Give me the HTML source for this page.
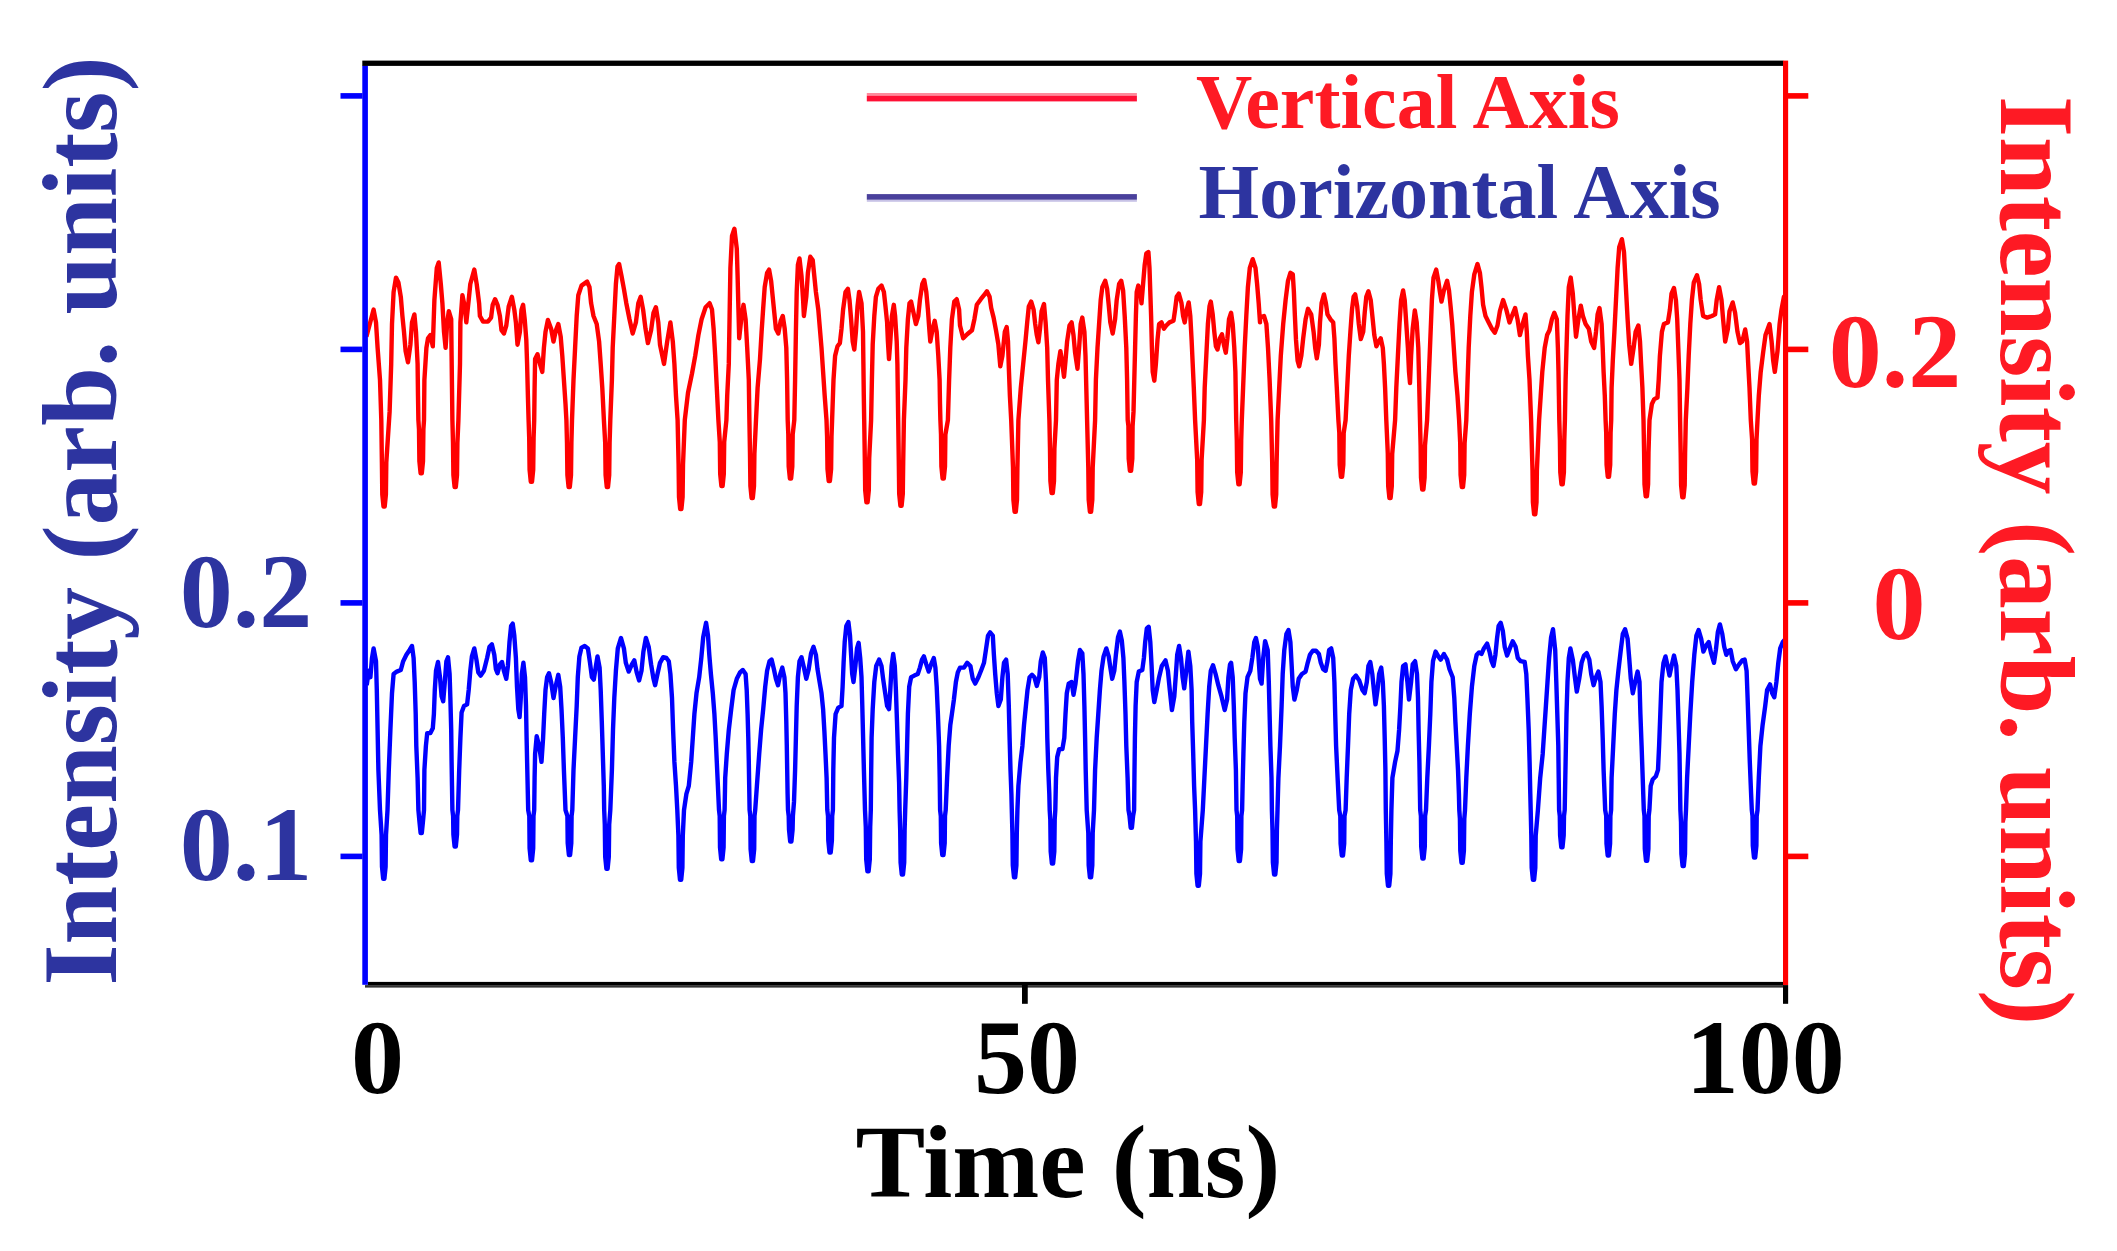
<!DOCTYPE html>
<html><head><meta charset="utf-8"><title>Intensity vs Time</title>
<style>
html,body{margin:0;padding:0;background:#fff;}
svg{display:block;}
text{font-family:"Liberation Serif","DejaVu Serif",serif;font-weight:bold;}
</style></head><body>
<svg width="2117" height="1251" viewBox="0 0 2117 1251">
<rect width="2117" height="1251" fill="#fff"/>
<!-- traces -->
<polyline fill="none" stroke="#ff0000" stroke-width="4.4" stroke-linejoin="round" points="366.4,336.7 373.6,309.6 376.0,322.4 377.6,347.9 380.0,379.9 381.3,420.1 381.9,462.6 382.3,494.6 383.5,506.6 384.7,506.6 385.9,494.6 386.3,462.6 389.6,411.9 391.2,363.9 392.0,324.0 393.6,292.0 396.0,277.6 398.4,282.4 400.8,296.8 402.4,316.0 404.0,331.9 405.6,351.1 408.0,362.3 410.4,344.7 412.0,322.4 414.4,314.4 416.0,331.9 417.6,363.9 418.0,395.9 418.4,420.1 419.0,429.4 419.4,461.4 420.6,473.4 421.8,473.4 423.0,461.4 423.4,429.4 424.0,420.1 424.4,379.9 426.4,347.9 428.0,338.3 430.4,335.1 432.8,346.3 434.4,300.0 436.8,268.0 438.7,262.4 440.8,284.0 442.4,303.2 444.0,331.9 445.6,347.9 447.2,322.4 448.8,311.2 451.2,319.2 451.6,355.9 452.0,387.9 452.4,420.1 453.0,443.0 453.4,475.0 454.6,487.0 455.8,487.0 457.0,475.0 457.4,443.0 458.4,420.1 460.0,363.9 460.4,322.4 462.4,295.2 464.7,306.4 466.3,322.4 468.7,300.0 470.3,284.0 474.3,269.6 476.7,284.0 479.1,303.2 479.9,316.0 483.1,321.6 487.9,321.6 491.1,317.6 492.7,304.8 495.1,299.2 497.5,304.8 499.9,316.0 501.5,330.3 503.9,333.5 506.3,325.5 508.7,306.4 511.9,296.8 514.3,309.6 515.9,322.4 517.5,344.7 519.9,331.9 521.5,309.6 523.1,304.8 524.7,319.2 526.3,339.9 527.1,363.9 527.9,395.9 528.6,420.1 529.2,437.9 529.6,469.9 530.8,481.9 532.0,481.9 533.2,469.9 533.6,437.9 534.2,420.1 534.6,387.9 535.1,359.1 537.5,354.3 539.9,363.9 542.3,371.9 543.9,347.9 545.5,331.9 547.9,320.0 551.1,328.7 553.5,341.5 555.9,330.3 558.3,324.0 560.7,336.7 562.3,355.9 563.9,379.9 565.5,403.9 566.4,420.1 567.0,443.0 567.4,475.0 568.6,487.0 569.8,487.0 571.0,475.0 571.4,443.0 572.0,420.1 573.5,379.9 575.1,347.9 576.7,316.0 578.3,295.2 581.5,285.6 587.1,281.6 589.5,287.2 591.1,303.2 593.5,316.0 596.7,324.0 599.1,341.5 600.7,363.9 602.3,387.9 603.9,420.1 605.2,443.0 605.6,475.0 606.8,487.0 608.0,487.0 609.2,475.0 609.6,443.0 610.3,420.1 611.9,379.9 612.7,347.9 614.3,316.0 615.9,284.0 617.5,266.4 619.1,264.0 621.5,276.0 623.9,288.8 626.3,303.2 629.5,319.2 632.7,333.5 635.9,322.4 638.3,303.2 640.7,296.8 643.1,309.6 645.5,328.7 647.9,343.1 651.1,330.3 653.5,312.8 655.9,307.2 658.3,322.4 660.0,344.7 664.0,363.9 667.2,341.5 670.4,322.4 672.8,341.5 674.4,363.9 676.0,395.9 677.6,420.1 678.6,465.0 679.0,497.0 680.2,509.0 681.4,509.0 682.6,497.0 683.0,465.0 684.8,420.1 688.0,392.7 692.0,373.5 695.2,355.9 698.4,335.1 701.6,319.2 705.6,307.2 709.6,303.2 712.0,309.6 713.6,328.7 715.2,355.9 716.8,387.9 718.4,420.1 719.8,442.0 720.2,474.0 721.4,486.0 722.6,486.0 723.8,474.0 724.2,442.0 726.4,420.1 727.2,395.9 728.8,363.9 729.6,316.0 730.4,268.0 732.0,236.0 734.4,228.8 736.8,248.8 737.6,276.0 738.4,308.0 739.2,338.3 741.6,316.0 743.5,304.8 745.6,319.2 747.2,347.9 748.8,379.9 749.4,420.1 750.0,454.0 750.4,486.0 751.6,498.0 752.8,498.0 754.0,486.0 754.4,454.0 756.0,420.1 757.6,387.9 760.0,359.1 761.6,331.9 763.2,308.0 764.7,287.2 767.1,272.8 769.1,269.6 771.1,280.8 772.7,296.8 774.3,312.8 775.9,328.7 778.3,333.5 780.7,320.8 782.8,316.0 784.7,328.7 786.3,347.9 787.1,379.9 787.7,420.1 788.3,434.5 788.7,466.5 789.9,478.5 791.1,478.5 792.3,466.5 792.7,434.5 794.3,420.1 795.1,379.9 795.9,331.9 796.7,292.0 797.9,264.8 799.5,258.4 801.5,276.0 803.1,300.0 803.9,316.0 806.3,296.8 807.9,272.8 810.3,256.8 812.7,260.0 814.3,276.0 815.9,292.0 818.3,309.6 819.9,328.7 821.5,347.9 823.1,371.9 824.7,395.9 826.5,420.1 827.1,437.0 827.5,469.0 828.7,481.0 829.9,481.0 831.1,469.0 831.5,437.0 832.1,420.1 833.5,379.9 835.1,355.9 837.5,346.3 839.9,343.1 841.5,328.7 843.1,309.6 845.5,292.0 847.9,288.8 849.5,300.0 851.1,319.2 852.7,341.5 854.3,349.5 855.9,331.9 857.5,306.4 859.1,292.0 861.5,303.2 863.0,331.9 863.4,363.9 863.8,395.9 864.2,420.1 864.8,458.3 865.2,490.3 866.4,502.3 867.6,502.3 868.8,490.3 869.2,458.3 871.1,420.1 871.9,379.9 872.7,344.7 874.3,316.0 875.9,296.8 878.3,288.8 881.5,285.6 883.9,292.0 885.5,306.4 887.1,322.4 887.9,341.5 889.0,359.1 890.3,341.5 891.9,316.0 893.8,304.8 895.1,316.0 896.7,341.5 897.4,363.9 897.8,392.7 898.2,420.1 898.8,461.7 899.2,493.7 900.4,505.7 901.6,505.7 902.8,493.7 903.2,461.7 903.9,420.1 905.5,379.9 906.3,347.9 907.9,319.2 909.5,303.2 911.1,301.6 913.5,312.8 915.9,324.0 918.3,316.0 919.9,300.0 922.3,284.0 924.2,280.0 926.3,292.0 927.9,309.6 929.5,331.9 930.3,341.5 932.7,328.7 934.7,320.8 936.7,331.9 938.3,355.9 939.6,379.9 940.0,403.9 940.4,420.1 941.0,434.5 941.4,466.5 942.6,478.5 943.8,478.5 945.0,466.5 945.4,434.5 947.9,420.1 949.1,379.9 950.3,347.9 951.9,319.2 954.3,301.6 956.7,299.2 959.1,309.6 960.0,325.5 963.2,338.3 967.2,334.3 972.0,330.3 974.4,319.2 976.8,304.8 980.8,299.2 984.0,295.2 986.9,291.2 989.6,296.8 991.2,308.0 993.6,317.6 996.0,330.3 998.4,344.7 1000.3,366.3 1002.4,355.9 1004.8,331.9 1006.7,327.1 1008.0,341.5 1008.8,367.1 1009.9,395.9 1011.2,420.1 1013.0,467.7 1013.4,499.7 1014.6,511.7 1015.8,511.7 1017.0,499.7 1017.4,467.7 1018.4,420.1 1020.8,387.9 1023.2,363.9 1025.6,339.9 1027.2,322.4 1028.8,306.4 1031.2,301.6 1033.6,309.6 1035.2,324.0 1036.8,335.1 1038.4,342.3 1040.0,328.7 1041.6,311.2 1044.0,304.0 1045.6,322.4 1047.2,347.9 1048.0,379.9 1049.4,420.1 1050.0,449.0 1050.4,481.0 1051.6,493.0 1052.8,493.0 1054.0,481.0 1054.4,449.0 1056.0,420.1 1056.8,379.9 1058.4,363.9 1060.4,351.1 1062.4,363.9 1064.0,376.7 1065.5,360.7 1067.1,341.5 1069.5,325.5 1071.6,322.4 1073.5,335.1 1075.1,352.7 1077.5,368.7 1079.1,347.9 1080.7,324.0 1082.3,317.6 1084.4,331.9 1085.5,355.9 1086.3,387.9 1087.1,420.1 1088.3,467.7 1088.7,499.7 1089.9,511.7 1091.1,511.7 1092.3,499.7 1092.7,467.7 1095.1,420.1 1095.9,379.9 1097.5,347.9 1099.1,324.0 1100.7,300.0 1102.3,287.2 1105.2,280.8 1107.1,288.8 1108.7,304.8 1110.3,322.4 1112.7,333.5 1115.1,319.2 1116.7,300.0 1119.1,284.0 1121.2,280.8 1123.1,290.4 1124.7,316.0 1126.3,347.9 1127.1,379.9 1127.7,420.1 1128.4,426.0 1128.7,458.8 1129.9,470.8 1131.1,470.8 1132.3,458.8 1132.6,426.0 1133.5,411.9 1134.3,379.9 1135.1,347.9 1135.9,316.0 1136.7,292.0 1138.3,285.6 1140.7,295.2 1141.5,303.2 1143.1,284.0 1144.7,264.8 1146.3,253.6 1148.4,252.0 1149.5,268.0 1150.3,292.0 1151.1,316.0 1151.9,347.9 1152.7,371.9 1154.3,380.7 1155.9,363.9 1157.5,339.9 1159.1,324.0 1161.5,322.4 1163.9,328.7 1166.3,325.5 1169.5,322.4 1173.5,320.8 1175.1,309.6 1176.7,296.8 1178.8,293.6 1181.5,303.2 1183.1,316.0 1184.7,322.4 1186.8,309.6 1188.7,302.4 1190.3,316.0 1191.6,339.9 1192.7,363.9 1193.8,387.9 1195.1,420.1 1197.2,460.0 1197.6,492.0 1198.8,504.0 1200.0,504.0 1201.2,492.0 1201.6,460.0 1203.9,420.1 1204.7,387.9 1206.3,355.9 1207.9,324.0 1209.5,306.4 1210.8,301.6 1212.7,314.4 1214.3,331.9 1215.9,346.3 1217.5,349.5 1219.9,338.3 1222.0,334.3 1223.9,344.7 1225.8,352.7 1227.4,338.3 1229.0,319.2 1231.1,312.8 1232.7,324.0 1234.3,347.9 1235.4,371.9 1235.8,395.9 1236.2,420.1 1236.8,440.4 1237.2,472.4 1238.4,484.4 1239.6,484.4 1240.8,472.4 1241.2,440.4 1241.8,420.1 1243.1,387.9 1244.7,347.9 1246.3,316.0 1247.9,287.2 1249.8,268.0 1252.7,259.2 1255.5,268.0 1257.1,284.0 1258.7,303.2 1260.0,322.4 1260.0,317.6 1264.0,316.0 1266.4,324.0 1268.0,347.9 1269.6,379.9 1271.2,420.1 1272.2,462.6 1272.6,494.6 1273.8,506.6 1275.0,506.6 1276.2,494.6 1276.6,462.6 1277.6,420.1 1279.2,387.9 1280.8,355.9 1283.2,324.0 1285.6,300.0 1288.0,280.8 1290.4,272.8 1292.8,274.4 1293.9,292.0 1294.9,316.0 1296.0,339.9 1297.6,360.7 1299.2,366.3 1301.3,355.9 1303.2,338.3 1305.6,319.2 1308.0,308.8 1311.2,314.4 1313.6,331.9 1315.2,347.9 1316.8,358.3 1318.9,344.7 1320.0,322.4 1321.6,303.2 1324.0,294.4 1325.9,303.2 1327.5,314.4 1330.4,319.2 1333.2,322.4 1334.4,338.3 1335.5,363.9 1336.8,387.9 1338.4,420.1 1339.3,432.8 1339.7,464.8 1340.9,476.8 1342.1,476.8 1343.3,464.8 1343.7,432.8 1345.6,420.1 1347.2,387.9 1348.8,355.9 1350.4,331.9 1352.0,309.6 1353.6,296.8 1355.2,294.4 1357.2,306.4 1358.8,324.0 1360.8,339.1 1363.2,331.9 1364.7,312.8 1366.3,296.8 1368.4,291.2 1370.7,300.0 1372.7,319.2 1374.3,335.1 1376.4,346.3 1378.7,341.5 1380.7,338.3 1382.8,347.9 1383.9,363.9 1385.1,387.9 1386.3,420.1 1387.8,454.0 1388.2,486.0 1389.4,498.0 1390.6,498.0 1391.8,486.0 1392.2,454.0 1395.1,420.1 1396.3,387.9 1397.9,355.9 1399.5,324.0 1401.1,300.0 1403.1,290.4 1404.7,300.0 1406.3,324.0 1407.9,347.9 1409.0,371.9 1410.0,383.1 1411.1,355.9 1412.7,328.7 1414.8,310.4 1416.7,322.4 1418.3,347.9 1419.1,379.9 1420.0,420.1 1420.6,445.5 1421.0,477.5 1422.2,489.5 1423.4,489.5 1424.6,477.5 1425.0,445.5 1427.1,420.1 1428.7,379.9 1430.3,339.9 1431.9,300.0 1433.5,277.6 1436.2,269.6 1438.3,280.8 1439.9,292.0 1441.5,301.6 1443.9,290.4 1447.1,280.8 1449.0,290.4 1450.6,306.4 1452.2,324.0 1453.8,347.9 1455.4,371.9 1457.5,395.9 1459.1,420.1 1460.2,443.0 1460.6,475.0 1461.8,487.0 1463.0,487.0 1464.2,475.0 1464.6,443.0 1466.3,420.1 1467.6,379.9 1468.7,347.9 1470.3,316.0 1471.9,292.0 1474.3,274.4 1477.5,264.0 1479.9,272.8 1481.5,287.2 1483.1,304.8 1485.5,316.0 1488.7,322.4 1491.9,328.7 1494.8,332.7 1497.5,325.5 1499.9,311.2 1503.1,300.0 1506.3,309.6 1509.5,322.4 1511.9,316.0 1515.1,308.0 1517.5,319.2 1519.9,335.1 1523.1,322.4 1525.5,314.4 1526.8,331.9 1527.9,355.9 1529.5,379.9 1531.1,420.1 1532.5,470.2 1532.9,502.2 1534.1,514.2 1535.3,514.2 1536.5,502.2 1536.9,470.2 1539.1,420.1 1540.7,395.9 1542.3,371.9 1544.7,347.9 1547.1,335.1 1549.5,330.3 1551.9,319.2 1554.3,312.8 1556.8,319.2 1557.9,347.9 1558.5,371.9 1558.9,395.9 1559.3,420.1 1559.9,440.4 1560.3,472.4 1561.5,484.4 1562.7,484.4 1563.9,472.4 1564.3,440.4 1564.9,420.1 1565.6,379.9 1566.5,347.9 1567.5,316.0 1568.8,287.2 1570.7,277.6 1572.8,293.6 1574.4,316.0 1576.0,336.7 1578.4,319.2 1580.8,305.6 1582.9,316.0 1585.6,324.0 1588.8,328.7 1591.2,341.5 1594.1,347.9 1596.0,331.9 1597.6,314.4 1599.5,308.0 1601.6,324.0 1602.7,347.9 1603.6,371.9 1604.8,395.9 1605.6,420.1 1606.2,432.8 1606.6,464.8 1607.8,476.8 1609.0,476.8 1610.2,464.8 1610.6,432.8 1611.2,420.1 1611.6,387.9 1612.8,360.7 1614.4,331.9 1616.0,300.0 1617.6,268.0 1619.2,247.2 1621.9,239.2 1624.0,252.0 1625.1,272.8 1626.4,296.8 1627.6,319.2 1629.2,344.7 1631.2,363.9 1633.6,347.9 1635.6,331.9 1638.4,325.5 1640.0,341.5 1641.1,363.9 1642.4,387.9 1643.5,420.1 1644.1,452.3 1644.5,484.3 1645.7,496.3 1646.9,496.3 1648.1,484.3 1648.5,452.3 1649.5,420.1 1651.9,403.9 1654.3,399.1 1657.5,397.5 1658.7,379.9 1659.9,355.9 1661.9,331.9 1663.9,324.0 1667.9,322.4 1669.9,309.6 1671.5,293.6 1674.0,288.0 1675.9,300.0 1677.2,319.2 1678.3,347.9 1679.5,379.9 1680.1,420.1 1680.7,453.2 1681.1,485.2 1682.3,497.2 1683.5,497.2 1684.7,485.2 1685.1,453.2 1685.8,420.1 1687.4,387.9 1688.7,355.9 1690.3,324.0 1691.9,300.0 1693.8,282.4 1697.0,275.2 1699.1,284.0 1700.7,300.0 1703.1,316.0 1707.1,317.6 1711.9,316.0 1715.1,314.4 1716.7,300.0 1719.1,287.2 1721.5,300.0 1723.1,319.2 1725.2,341.5 1727.9,328.7 1729.5,311.2 1732.7,302.4 1735.1,312.8 1737.5,331.9 1739.9,343.1 1742.3,341.5 1745.2,329.5 1747.1,341.5 1748.2,363.9 1749.5,387.9 1750.8,420.1 1752.1,439.6 1752.5,471.6 1753.7,483.6 1754.9,483.6 1756.1,471.6 1756.5,439.6 1757.5,420.1 1758.8,395.9 1760.7,371.9 1763.1,352.7 1765.5,335.1 1769.5,324.0 1771.6,341.5 1773.2,360.7 1774.8,371.9 1777.5,351.1 1779.6,324.0 1781.5,309.6 1783.9,296.8 1785.5,295.2"/>
<polyline fill="none" stroke="#0000ff" stroke-width="4.4" stroke-linejoin="round" points="366.7,685.2 368.8,670.8 370.4,677.2 372.0,658.0 373.6,648.4 376.0,661.2 376.8,690.0 377.6,729.9 378.4,769.9 380.0,810.1 381.6,834.9 382.0,866.9 383.2,878.9 384.4,878.9 385.6,866.9 386.0,834.9 387.5,810.1 388.8,769.9 390.4,729.9 392.0,693.2 393.6,674.0 396.8,671.6 400.8,670.0 403.2,661.2 406.4,654.8 409.6,650.0 412.0,646.0 413.6,658.0 414.7,682.0 415.7,714.0 416.3,745.9 417.6,777.9 418.4,810.1 419.4,821.0 420.6,833.0 421.8,833.0 423.0,821.0 424.0,810.1 424.4,769.9 425.9,745.9 427.2,733.1 430.4,733.1 432.8,728.3 433.9,714.0 434.8,690.0 436.0,670.8 438.0,662.0 440.0,677.2 441.6,696.4 443.2,701.2 444.8,682.0 446.4,661.2 448.0,657.2 449.6,674.0 450.4,699.6 451.2,729.9 451.6,761.9 452.0,785.9 452.4,810.1 453.1,816.0 453.4,834.6 454.6,846.6 455.8,846.6 457.0,834.6 457.3,816.0 458.0,810.1 459.2,769.9 460.4,737.9 461.6,712.4 464.0,706.0 467.1,704.4 468.7,690.0 470.3,670.8 471.9,656.4 474.3,648.4 476.4,659.6 478.3,672.4 480.7,675.6 483.9,670.8 487.1,658.0 489.5,646.8 491.9,644.4 494.3,654.8 495.9,669.2 497.5,673.2 499.9,664.4 502.0,662.0 503.9,670.8 506.3,678.8 507.9,666.0 509.5,642.0 511.1,626.0 512.7,623.6 514.3,635.6 515.9,658.0 517.0,686.8 518.3,709.2 519.6,717.1 520.7,699.6 521.8,674.0 523.4,662.8 525.0,677.2 526.0,706.0 526.6,737.9 527.3,769.9 528.2,810.1 529.3,816.0 529.6,848.2 530.8,860.2 532.0,860.2 533.2,848.2 533.5,816.0 534.2,810.1 534.6,777.9 535.1,753.9 536.7,736.3 539.1,745.9 541.5,761.9 543.1,737.9 544.2,714.0 545.5,690.0 547.1,677.2 549.0,673.2 551.1,682.0 553.5,698.0 555.9,685.2 558.3,674.8 560.2,686.8 561.5,709.2 562.8,737.9 563.9,769.9 565.5,810.1 567.4,816.0 567.7,843.0 568.9,855.0 570.1,855.0 571.3,843.0 571.6,816.0 572.3,810.1 573.5,769.9 575.1,737.9 576.7,706.0 577.8,677.2 579.4,656.4 581.5,647.6 584.7,646.0 587.9,648.4 590.0,662.8 591.9,677.2 593.8,679.6 595.9,666.0 597.5,656.4 599.6,667.6 600.7,690.0 601.8,721.9 602.8,753.9 603.8,785.9 604.2,810.1 604.8,824.7 605.2,856.7 606.4,868.7 607.6,868.7 608.8,856.7 609.2,824.7 610.3,810.1 611.9,769.9 613.0,729.9 614.3,698.0 615.9,670.8 617.8,648.4 621.0,638.0 623.9,648.4 625.8,662.8 628.7,671.6 631.9,664.4 634.3,660.4 636.7,672.4 639.1,680.4 641.5,670.8 643.4,651.6 645.9,638.0 648.7,646.8 651.1,664.4 653.5,678.8 655.1,685.2 657.5,674.0 660.0,662.8 663.2,657.2 666.4,658.0 668.8,661.2 670.4,674.0 672.0,698.0 673.1,729.9 674.4,761.9 676.0,785.9 677.3,810.1 678.4,835.7 678.8,867.7 680.0,879.7 681.2,879.7 682.4,867.7 682.8,835.7 684.0,810.1 686.4,793.9 688.8,785.9 691.2,761.9 692.8,737.9 694.4,714.0 696.5,693.2 699.2,677.2 701.3,658.0 703.2,637.2 706.1,622.8 708.0,635.6 709.3,654.8 710.9,674.0 712.8,693.2 714.4,714.0 715.7,737.9 716.8,761.9 717.9,785.9 719.0,810.1 719.7,816.0 720.0,847.3 721.2,859.3 722.4,859.3 723.6,847.3 723.9,816.0 724.6,810.1 725.2,777.9 726.8,753.9 728.8,729.9 731.2,709.2 733.6,690.0 736.8,678.8 740.0,672.4 742.8,670.0 745.6,674.0 746.7,690.0 747.6,714.0 748.3,737.9 748.8,761.9 749.2,785.9 749.6,810.1 750.3,816.0 750.6,849.0 751.8,861.0 753.0,861.0 754.2,849.0 754.5,816.0 755.2,810.1 756.9,785.9 759.2,753.9 761.1,729.9 763.2,709.2 765.2,686.8 767.1,670.8 769.5,661.2 771.6,659.6 773.9,669.2 775.9,678.8 778.0,685.2 780.3,674.0 782.3,667.6 784.4,677.2 785.5,693.2 786.3,721.9 786.8,745.9 787.2,769.9 787.6,793.9 788.0,810.1 788.7,816.0 789.0,829.5 790.2,841.5 791.4,841.5 792.6,829.5 792.9,816.0 794.0,801.9 795.1,769.9 795.9,737.9 796.7,706.0 797.9,677.2 799.5,661.2 801.5,657.2 803.9,667.6 806.3,678.8 808.7,669.2 811.1,653.2 813.5,646.8 815.9,654.8 817.5,669.2 819.6,682.0 821.5,693.2 823.1,709.2 824.4,731.5 825.5,753.9 826.6,777.9 827.3,810.1 828.0,816.0 828.3,840.5 829.5,852.5 830.7,852.5 831.9,840.5 832.2,816.0 832.9,810.1 833.3,769.9 834.0,737.9 835.6,714.0 838.3,707.6 841.5,706.0 842.6,686.8 843.6,662.8 844.7,642.0 846.3,626.0 848.4,622.0 850.0,635.6 851.1,654.8 852.2,674.0 853.5,682.0 855.4,666.0 857.0,648.4 858.6,642.8 860.2,658.0 861.5,677.2 862.3,706.0 863.1,737.9 863.9,769.9 865.0,810.1 865.8,827.2 866.2,859.2 867.4,871.2 868.6,871.2 869.8,859.2 870.2,827.2 870.8,810.1 871.2,769.9 871.6,737.9 872.7,709.2 874.3,682.0 876.2,666.0 879.1,659.6 881.5,666.0 883.1,678.8 885.2,693.2 887.1,706.0 889.0,709.2 890.3,690.0 891.6,666.0 893.2,654.0 894.8,666.0 895.9,690.0 897.0,721.9 898.0,753.9 899.1,782.7 899.6,810.1 900.2,830.6 900.6,862.6 901.8,874.6 903.0,874.6 904.2,862.6 904.6,830.6 905.2,810.1 906.3,777.9 907.1,745.9 907.9,714.0 909.2,686.8 911.1,677.2 914.3,675.6 917.8,674.0 919.9,667.6 922.0,659.6 923.9,656.4 926.3,664.4 928.7,671.6 931.1,664.4 933.8,658.0 935.4,667.6 936.7,686.8 937.9,714.0 939.1,745.9 939.7,777.9 940.1,810.1 940.8,816.0 941.1,843.1 942.3,855.1 943.5,855.1 944.7,843.1 945.0,816.0 945.7,810.1 947.1,777.9 948.7,745.9 950.3,725.1 951.9,714.0 953.9,699.6 955.9,682.0 957.8,672.4 960.0,667.6 964.0,667.6 967.2,662.8 970.4,666.0 972.8,678.8 975.2,683.6 978.4,677.2 981.6,669.2 984.0,662.8 985.9,650.0 988.0,635.6 990.1,632.4 992.8,635.6 993.9,654.8 995.2,674.0 996.8,693.2 998.4,706.0 1000.8,699.6 1002.4,677.2 1004.0,662.8 1006.1,659.6 1007.7,674.0 1008.8,706.0 1009.6,737.9 1010.5,769.9 1011.4,793.9 1011.8,810.1 1012.4,833.2 1012.8,865.2 1014.0,877.2 1015.2,877.2 1016.4,865.2 1016.8,833.2 1017.4,810.1 1018.4,785.9 1020.5,761.9 1022.4,745.9 1024.0,725.1 1025.9,706.0 1027.5,690.0 1029.6,677.2 1032.0,674.8 1034.4,677.2 1036.8,686.0 1039.2,677.2 1040.8,661.2 1042.8,652.4 1044.8,658.0 1046.0,682.0 1046.7,706.0 1047.3,737.9 1048.3,769.9 1049.3,793.9 1049.7,810.1 1050.3,819.6 1050.7,851.6 1051.9,863.6 1053.1,863.6 1054.3,851.6 1054.7,819.6 1055.3,810.1 1056.0,777.9 1057.2,757.1 1059.2,749.1 1062.4,749.1 1064.3,737.9 1065.5,714.0 1066.8,693.2 1068.7,683.6 1071.6,682.0 1073.5,694.8 1075.5,683.6 1078.0,661.2 1079.9,650.0 1082.3,653.2 1083.5,674.0 1084.4,706.0 1085.1,737.9 1085.7,769.9 1086.7,810.1 1088.3,833.2 1088.7,865.2 1089.9,877.2 1091.1,877.2 1092.3,865.2 1092.7,833.2 1094.0,810.1 1095.1,769.9 1096.7,737.9 1098.3,714.0 1099.9,690.0 1101.5,670.8 1103.6,656.4 1106.3,648.4 1108.7,656.4 1110.6,669.2 1112.2,678.8 1114.3,670.8 1115.9,654.8 1118.0,637.2 1119.9,631.6 1121.8,640.4 1123.4,658.0 1124.4,682.0 1125.5,714.0 1126.3,745.9 1127.6,777.9 1128.5,810.1 1129.5,815.9 1130.7,827.9 1131.9,827.9 1133.1,815.9 1134.1,810.1 1134.5,769.9 1134.9,737.9 1135.6,706.0 1136.7,682.0 1138.8,671.6 1142.3,670.0 1143.9,658.0 1145.2,642.0 1146.8,628.4 1148.7,626.8 1150.3,642.0 1151.6,666.0 1152.7,690.0 1154.3,702.0 1156.7,690.0 1159.1,677.2 1161.8,666.0 1165.5,660.4 1167.9,670.8 1169.8,690.0 1171.9,710.0 1174.3,696.4 1175.9,674.0 1177.2,654.8 1179.1,646.0 1181.0,658.0 1182.6,677.2 1184.2,688.4 1186.3,670.8 1188.4,651.6 1190.3,666.0 1191.6,690.0 1192.2,721.9 1193.2,753.9 1194.1,785.9 1195.1,810.1 1196.0,841.7 1196.4,873.7 1197.6,885.7 1198.8,885.7 1200.0,873.7 1200.4,841.7 1202.8,810.1 1204.4,777.9 1206.0,745.9 1207.6,714.0 1209.2,686.8 1210.8,670.8 1213.0,665.2 1215.6,674.0 1218.3,685.2 1221.5,696.4 1224.7,710.0 1227.1,699.6 1228.4,677.2 1230.0,664.4 1231.1,662.8 1232.7,677.2 1233.8,706.0 1234.7,737.9 1235.9,769.9 1236.5,810.1 1237.2,816.0 1237.5,849.0 1238.7,861.0 1239.9,861.0 1241.1,849.0 1241.4,816.0 1242.1,810.1 1242.6,785.9 1243.4,753.9 1244.3,721.9 1245.5,693.2 1247.5,677.2 1250.3,670.8 1252.3,658.0 1254.3,642.0 1255.9,638.0 1257.8,646.8 1259.1,666.0 1260.0,678.8 1261.6,683.6 1263.2,658.0 1265.1,641.2 1267.7,650.0 1268.8,682.0 1269.6,714.0 1270.4,745.9 1271.5,777.9 1271.9,810.1 1272.5,830.6 1272.9,862.6 1274.1,874.6 1275.3,874.6 1276.5,862.6 1276.9,830.6 1277.5,810.1 1278.4,777.9 1280.0,745.9 1281.6,706.0 1282.7,674.0 1284.3,650.0 1286.4,634.0 1288.5,630.0 1290.4,642.0 1291.7,666.0 1292.8,686.8 1294.4,699.6 1296.8,690.0 1298.7,678.8 1301.9,674.0 1305.6,671.6 1307.7,662.8 1309.9,654.8 1312.8,650.8 1316.0,650.8 1318.9,654.0 1320.8,662.8 1323.2,669.2 1325.6,670.8 1327.5,661.2 1329.1,650.0 1331.2,648.4 1333.2,658.0 1334.4,682.0 1335.2,714.0 1336.1,745.9 1337.6,777.9 1339.2,810.1 1340.3,816.0 1340.6,843.6 1341.8,855.6 1343.0,855.6 1344.2,843.6 1344.5,816.0 1345.6,810.1 1346.7,777.9 1348.0,745.9 1349.2,714.0 1350.8,690.0 1353.1,678.8 1356.0,675.6 1359.2,680.4 1362.4,690.0 1364.7,693.2 1366.8,682.0 1368.4,666.0 1370.3,662.0 1372.3,674.0 1373.9,690.0 1375.5,704.4 1377.5,690.0 1379.1,674.0 1381.2,667.6 1382.8,682.0 1383.9,706.0 1384.7,737.9 1385.4,769.9 1385.8,810.1 1386.4,841.7 1386.8,873.7 1388.0,885.7 1389.2,885.7 1390.4,873.7 1390.8,841.7 1391.4,810.1 1392.4,777.9 1395.1,761.9 1397.5,750.7 1399.1,729.9 1400.4,706.0 1401.5,682.0 1403.1,666.0 1405.5,664.4 1407.4,682.0 1409.0,699.6 1411.1,682.0 1412.7,664.4 1415.1,661.2 1417.0,674.0 1418.0,698.0 1418.6,729.9 1419.4,761.9 1419.8,785.9 1420.2,810.1 1420.9,816.0 1421.2,846.5 1422.4,858.5 1423.6,858.5 1424.8,846.5 1425.1,816.0 1426.0,810.1 1427.3,777.9 1428.9,745.9 1430.3,714.0 1431.4,682.0 1433.0,661.2 1435.6,651.6 1438.3,656.4 1440.7,659.6 1443.9,654.0 1447.1,659.6 1449.5,669.2 1452.7,677.2 1454.3,698.0 1455.4,721.9 1456.7,745.9 1458.0,769.9 1458.9,793.9 1459.3,810.1 1459.9,818.7 1460.3,850.7 1461.5,862.7 1462.7,862.7 1463.9,850.7 1464.3,818.7 1465.0,810.1 1466.3,777.9 1467.9,745.9 1469.8,714.0 1471.9,686.8 1474.3,666.0 1476.7,654.8 1479.1,652.4 1481.5,654.0 1483.9,648.4 1487.1,643.6 1489.5,651.6 1491.6,661.2 1493.5,666.0 1495.4,654.8 1497.0,638.8 1498.6,626.0 1500.7,622.8 1502.8,630.8 1504.7,646.8 1507.1,655.6 1509.8,648.4 1512.7,641.2 1515.6,646.8 1517.8,658.0 1520.7,661.2 1524.7,662.0 1526.3,674.0 1527.4,698.0 1528.7,729.9 1529.6,761.9 1530.3,793.9 1530.7,810.1 1531.3,835.7 1531.7,867.7 1532.9,879.7 1534.1,879.7 1535.3,867.7 1535.7,835.7 1537.9,810.1 1540.2,777.9 1542.7,753.9 1544.3,729.9 1545.9,706.0 1547.5,682.0 1549.1,658.0 1551.1,637.2 1553.0,629.2 1555.2,650.0 1556.3,682.0 1557.3,714.0 1558.3,745.9 1558.7,777.9 1559.1,810.1 1559.8,816.0 1560.1,835.4 1561.3,847.4 1562.5,847.4 1563.7,835.4 1564.0,816.0 1564.7,810.1 1565.3,777.9 1565.9,745.9 1566.5,714.0 1567.5,682.0 1568.8,658.0 1570.4,648.4 1572.8,659.6 1574.9,677.2 1576.8,691.6 1579.2,678.8 1581.6,662.8 1584.0,655.6 1586.7,653.2 1589.3,659.6 1591.2,674.0 1593.6,685.2 1596.0,677.2 1598.4,671.6 1600.5,682.0 1601.6,706.0 1602.7,737.9 1603.6,769.9 1605.2,810.1 1606.2,816.0 1606.5,843.6 1607.7,855.6 1608.9,855.6 1610.1,843.6 1610.4,816.0 1611.1,810.1 1611.6,777.9 1613.2,745.9 1614.8,714.0 1616.4,690.0 1618.4,670.8 1620.8,650.0 1622.8,634.0 1625.1,629.2 1627.6,638.8 1629.2,658.0 1630.8,678.8 1632.8,693.2 1635.2,682.0 1637.6,671.6 1639.5,682.0 1640.4,714.0 1641.6,745.9 1642.7,777.9 1643.8,810.1 1644.5,816.0 1644.8,848.7 1646.0,860.7 1647.2,860.7 1648.4,848.7 1648.7,816.0 1649.4,810.1 1650.7,785.9 1652.7,779.5 1655.9,776.3 1658.0,769.9 1659.1,745.9 1660.3,714.0 1661.5,682.0 1663.5,662.8 1665.5,656.4 1667.6,666.0 1669.5,675.6 1671.9,664.4 1674.0,655.6 1676.3,666.0 1677.5,690.0 1678.5,721.9 1679.5,753.9 1680.0,785.9 1680.4,810.1 1681.0,822.1 1681.4,854.1 1682.6,866.1 1683.8,866.1 1685.0,854.1 1685.4,822.1 1686.0,810.1 1687.1,777.9 1688.7,745.9 1690.3,714.0 1692.2,682.0 1694.3,654.8 1696.4,635.6 1698.6,630.0 1701.2,638.8 1703.4,651.6 1706.3,645.2 1708.7,642.0 1711.1,653.2 1714.0,662.8 1715.9,650.0 1717.8,632.4 1719.9,624.4 1722.3,634.0 1724.2,646.8 1726.3,654.8 1728.7,650.8 1730.6,650.0 1732.7,661.2 1735.9,669.2 1739.1,664.4 1742.3,660.4 1744.7,659.6 1746.6,670.8 1747.6,698.0 1748.7,729.9 1749.8,761.9 1751.1,793.9 1751.8,810.1 1752.5,816.0 1752.8,845.6 1754.0,857.6 1755.2,857.6 1756.4,845.6 1756.7,816.0 1757.5,810.1 1758.8,777.9 1760.4,745.9 1762.6,725.1 1765.2,706.0 1767.1,690.0 1770.0,684.4 1772.2,693.2 1774.3,697.2 1776.4,682.0 1778.3,662.8 1780.2,648.4 1782.8,642.0 1785.0,639.6"/>
<!-- frame -->
<rect x="367.9" y="981.9" width="1415.6" height="3.3" fill="#000"/>
<rect x="365" y="985.1" width="1418.5" height="2.5" fill="#333"/>
<rect x="362.3" y="65.5" width="5.6" height="919.3" fill="#0000ff"/>
<rect x="362.3" y="60.6" width="1421" height="5.3" fill="#000"/>
<rect x="1783" y="60.6" width="5.15" height="924.5" fill="#ff0000"/>
<!-- bottom ticks -->
<rect x="1022" y="985" width="5.75" height="18.8" fill="#000"/>
<rect x="1783" y="985.1" width="5.15" height="18.7" fill="#000"/>
<!-- left ticks -->
<g fill="#0000ff">
<rect x="340.5" y="93.1" width="22" height="5.6"/>
<rect x="340.5" y="346.6" width="22" height="5.6"/>
<rect x="340.5" y="600.1" width="22" height="5.6"/>
<rect x="340.5" y="853.6" width="22" height="5.6"/>
</g>
<!-- right ticks -->
<g fill="#ff0000">
<rect x="1788" y="93.1" width="20.3" height="5.6"/>
<rect x="1788" y="346.6" width="20.3" height="5.6"/>
<rect x="1788" y="600.1" width="20.3" height="5.6"/>
<rect x="1788" y="853.6" width="20.3" height="5.6"/>
</g>
<!-- legend -->
<rect x="866.8" y="93" width="270.1" height="2.9" fill="#ff8a9c"/>
<rect x="866.8" y="95.8" width="270.1" height="5.6" fill="#ff1035"/>
<rect x="866.8" y="199.6" width="270.1" height="2.2" fill="#c8c3e6"/>
<rect x="866.8" y="194.1" width="270.1" height="5.6" fill="#4a409c"/>
<text id="leg1" x="1196" y="128" font-size="78" fill="#fe1a24">Vertical Axis</text>
<text id="leg2" x="1198.5" y="218" font-size="78" fill="#2d34a0">Horizontal Axis</text>
<!-- tick labels -->
<text id="l02" x="246" y="627" font-size="106" text-anchor="middle" fill="#2d34a0">0.2</text>
<text id="l01" x="246" y="880" font-size="106" text-anchor="middle" fill="#2d34a0">0.1</text>
<text id="r02" x="1895" y="386.5" font-size="106" text-anchor="middle" fill="#fe1a24">0.2</text>
<text id="r0" x="1899" y="639" font-size="106" text-anchor="middle" fill="#fe1a24">0</text>
<text id="b0" x="377.5" y="1092.7" font-size="106" text-anchor="middle" fill="#000">0</text>
<text id="b50" x="1027" y="1092.7" font-size="106" text-anchor="middle" fill="#000">50</text>
<text id="b100" x="1765.2" y="1092.7" font-size="106" text-anchor="middle" fill="#000">100</text>
<text id="xlab" x="1067.8" y="1197" font-size="104.5" text-anchor="middle" fill="#000">Time (ns)</text>
<!-- axis titles -->
<text id="ylabL" transform="translate(116,521) rotate(-90)" font-size="105.5" text-anchor="middle" fill="#2d34a0">Intensity (arb. units)</text>
<text id="ylabR" transform="translate(2001,560.5) rotate(90)" font-size="105.5" text-anchor="middle" fill="#fe1a24">Intensity (arb. units)</text>
</svg>
</body></html>
